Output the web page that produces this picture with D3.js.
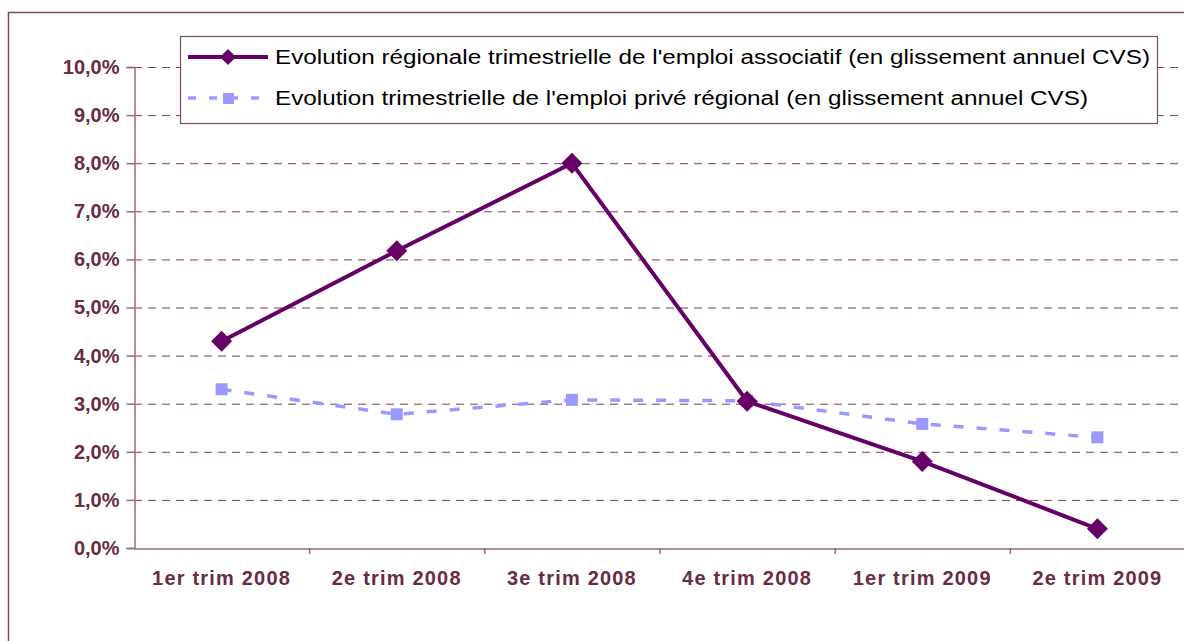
<!DOCTYPE html>
<html>
<head>
<meta charset="utf-8">
<script src="https://cdn.jsdelivr.net/npm/d3@7"></script>
<style>
  body { margin: 0; background: #fff; }
  svg { display: block; font-family: "Liberation Sans", Arial, sans-serif; }
</style>
</head>
<body>
<svg id="chart" width="1184" height="641"></svg>
<script>
const categories = ["1er trim 2008", "2e trim 2008", "3e trim 2008", "4e trim 2008", "1er trim 2009", "2e trim 2009"];
const associatif = [4.3, 6.18, 8.0, 3.05, 1.8, 0.4];
const prive = [3.3, 2.78, 3.08, 3.06, 2.58, 2.3];
const yTicks = [0, 1, 2, 3, 4, 5, 6, 7, 8, 9, 10];
const seriesNames = [
  "Evolution régionale trimestrielle de l'emploi associatif (en glissement annuel CVS)",
  "Evolution trimestrielle de l'emploi privé régional (en glissement annuel CVS)"
];

const maroon = "#6b2a45";
const svg = d3.select("#chart");

// outer frame (runs off the right and bottom edge)
svg.append("rect")
  .attr("x", 8.5).attr("y", 12.5)
  .attr("width", 1300).attr("height", 800)
  .attr("fill", "none").attr("stroke", "#7e4a60").attr("stroke-width", 1.5);

const plotLeft = 134, plotRight = 1185, plotTop = 67, plotBottom = 548;

const x = d3.scaleBand().domain(categories).range([plotLeft, plotRight]);
const y = d3.scaleLinear().domain([0, 10]).range([plotBottom, plotTop]);
const cx = d => x(d) + x.bandwidth() / 2;

// grid lines
svg.append("g").selectAll("line")
  .data(yTicks.filter(t => t > 0))
  .enter().append("line")
  .attr("x1", plotLeft).attr("x2", 1184)
  .attr("y1", d => y(d) + 0.5).attr("y2", d => y(d) + 0.5)
  .attr("stroke", "#7a3a58").attr("stroke-width", 1)
  .attr("stroke-dasharray", "8,6");

// y axis
const yAxis = svg.append("g")
  .attr("transform", `translate(${plotLeft + 0.5},0)`)
  .call(d3.axisLeft(y).tickValues(yTicks).tickSize(8).tickPadding(7)
    .tickFormat(d => d3.format(".1f")(d).replace(".", ",") + "%"));
yAxis.attr("font-size", null).attr("font-family", null);
yAxis.select(".domain").attr("stroke", "#9a6a80").attr("stroke-width", 1.5);
yAxis.selectAll(".tick line").attr("stroke", "#9a6a80").attr("stroke-width", 1.5);
yAxis.selectAll("text")
  .attr("fill", maroon)
  .style("font-size", "20px").style("font-weight", "bold")
  .style("font-family", "'Liberation Sans', Arial, sans-serif");

// x axis
const xAxis = svg.append("g")
  .attr("transform", `translate(0,${plotBottom + 0.5})`)
  .call(d3.axisBottom(x).tickSize(0).tickPadding(22));
xAxis.attr("font-size", null).attr("font-family", null);
xAxis.select(".domain").attr("stroke", "#9a6a80").attr("stroke-width", 1.5);
xAxis.selectAll("text")
  .attr("fill", maroon)
  .style("font-size", "20px").style("font-weight", "bold")
  .style("letter-spacing", "1.2px")
  .style("font-family", "'Liberation Sans', Arial, sans-serif");
// boundary ticks between categories
svg.append("g").selectAll("line")
  .data(categories.slice(1))
  .enter().append("line")
  .attr("x1", d => x(d) + 0.5).attr("x2", d => x(d) + 0.5)
  .attr("y1", plotBottom).attr("y2", plotBottom + 6)
  .attr("stroke", "#9a6a80").attr("stroke-width", 1.5);

// private employment series
const linePrive = d3.line().x((d, i) => cx(categories[i])).y(d => y(d));
svg.append("path")
  .datum(prive)
  .attr("d", linePrive)
  .attr("fill", "none").attr("stroke", "#9999ff").attr("stroke-width", 3.5)
  .attr("stroke-dasharray", "10,13");
svg.append("g").selectAll("rect")
  .data(prive)
  .enter().append("rect")
  .attr("x", (d, i) => cx(categories[i]) - 6)
  .attr("y", d => y(d) - 6)
  .attr("width", 12).attr("height", 12)
  .attr("fill", "#9999ff");

// associative employment series
const lineAsso = d3.line().x((d, i) => cx(categories[i])).y(d => y(d));
svg.append("path")
  .datum(associatif)
  .attr("d", lineAsso)
  .attr("fill", "none").attr("stroke", "#660066").attr("stroke-width", 4);
const diamond = d3.symbol().type(d3.symbolSquare).size(220);
svg.append("g").selectAll("path")
  .data(associatif)
  .enter().append("path")
  .attr("d", diamond)
  .attr("transform", (d, i) => `translate(${cx(categories[i])},${y(d)}) rotate(45)`)
  .attr("fill", "#660066");

// legend
const lg = svg.append("g");
lg.append("rect")
  .attr("x", 180.5).attr("y", 36.5)
  .attr("width", 977).attr("height", 87)
  .attr("fill", "#fff").attr("stroke", "#7e4a60").attr("stroke-width", 1.2);

lg.append("line")
  .attr("x1", 188).attr("x2", 268).attr("y1", 57).attr("y2", 57)
  .attr("stroke", "#660066").attr("stroke-width", 4);
lg.append("path")
  .attr("d", d3.symbol().type(d3.symbolSquare).size(130))
  .attr("transform", "translate(228,57) rotate(45)")
  .attr("fill", "#660066");

lg.append("line")
  .attr("x1", 188).attr("x2", 268).attr("y1", 98).attr("y2", 98)
  .attr("stroke", "#9999ff").attr("stroke-width", 3.5)
  .attr("stroke-dasharray", "8,13");
lg.append("rect")
  .attr("x", 223).attr("y", 93).attr("width", 11).attr("height", 11)
  .attr("fill", "#9999ff");

const legendWidths = [875, 813];
lg.selectAll("text.leg")
  .data(seriesNames)
  .enter().append("text")
  .attr("class", "leg")
  .attr("x", 275)
  .attr("y", (d, i) => 64 + i * 41)
  .attr("font-size", 20)
  .attr("fill", "#000")
  .attr("textLength", (d, i) => legendWidths[i])
  .attr("lengthAdjust", "spacingAndGlyphs")
  .text(d => d);
</script>
</body>
</html>
